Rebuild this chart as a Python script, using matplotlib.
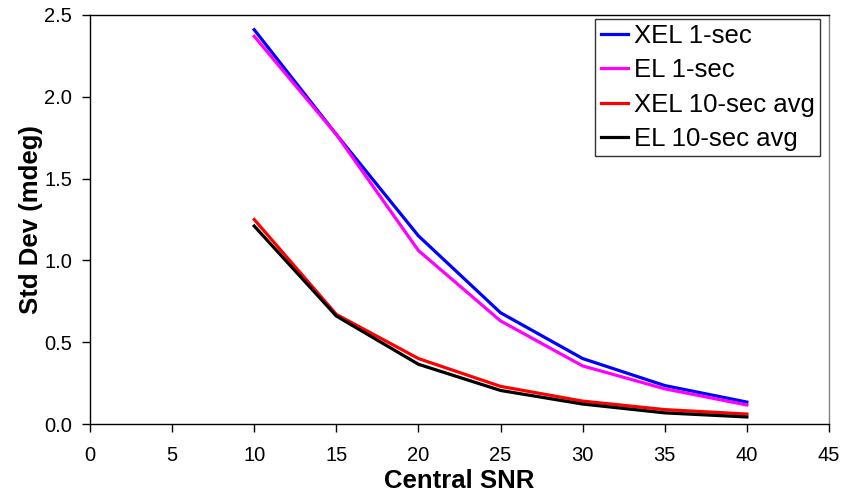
import matplotlib
matplotlib.use("Agg")
import matplotlib.pyplot as plt

plt.rcParams['font.family'] = ['Liberation Sans', 'DejaVu Sans']

snr = [10, 15, 20, 25, 30, 35, 40]
xel_1sec = [2.41, 1.77, 1.15, 0.68, 0.40, 0.235, 0.134]
el_1sec = [2.37, 1.77, 1.06, 0.63, 0.355, 0.215, 0.116]
xel_10sec = [1.25, 0.67, 0.40, 0.23, 0.14, 0.088, 0.061]
el_10sec = [1.21, 0.66, 0.365, 0.205, 0.122, 0.068, 0.043]

series = [
    ("XEL 1-sec", xel_1sec, "#0000FF"),
    ("EL 1-sec", el_1sec, "#FF00FF"),
    ("XEL 10-sec avg", xel_10sec, "#FF0000"),
    ("EL 10-sec avg", el_10sec, "#000000"),
]

fig = plt.figure(figsize=(8.52, 4.99), dpi=100)
ax = fig.add_axes([90/852, 1-424/499, (829-90)/852, (424-15)/499])

for label, vals, color in series:
    ax.plot(snr, vals, color=color, lw=2.3, label=label, solid_joinstyle='miter')

ax.set_xlim(0, 45)
ax.set_ylim(0, 2.5)
ax.set_xticks(range(0, 46, 5))
ax.set_yticks([0.0, 0.5, 1.0, 1.5, 2.0, 2.5])
ax.set_yticklabels([f"{v:.1f}" for v in [0.0, 0.5, 1.0, 1.5, 2.0, 2.5]])
ax.tick_params(axis='both', direction='out', length=6, width=1, labelsize=14.5)
ax.tick_params(axis='x', pad=10)
ax.tick_params(axis='y', pad=7)
ax.spines['right'].set_color('#808080')
ax.spines['top'].set_color('black')
for s in ax.spines.values():
    s.set_linewidth(1.0)

ax.set_xlabel("Central SNR", fontsize=18.5, fontweight='bold', labelpad=3)
ax.set_ylabel("Std Dev (mdeg)", fontsize=18.5, fontweight='bold', labelpad=1)

leg = ax.legend(loc='upper right', bbox_to_anchor=(820/852, 1-19/499), bbox_transform=fig.transFigure,
                fontsize=18.5, frameon=True, fancybox=False, edgecolor='black',
                handlelength=1.05, handletextpad=0.25, borderpad=0.2, labelspacing=0.4,
                borderaxespad=0)
leg.get_frame().set_linewidth(1.0)

fig.savefig("out.png", dpi=100)
